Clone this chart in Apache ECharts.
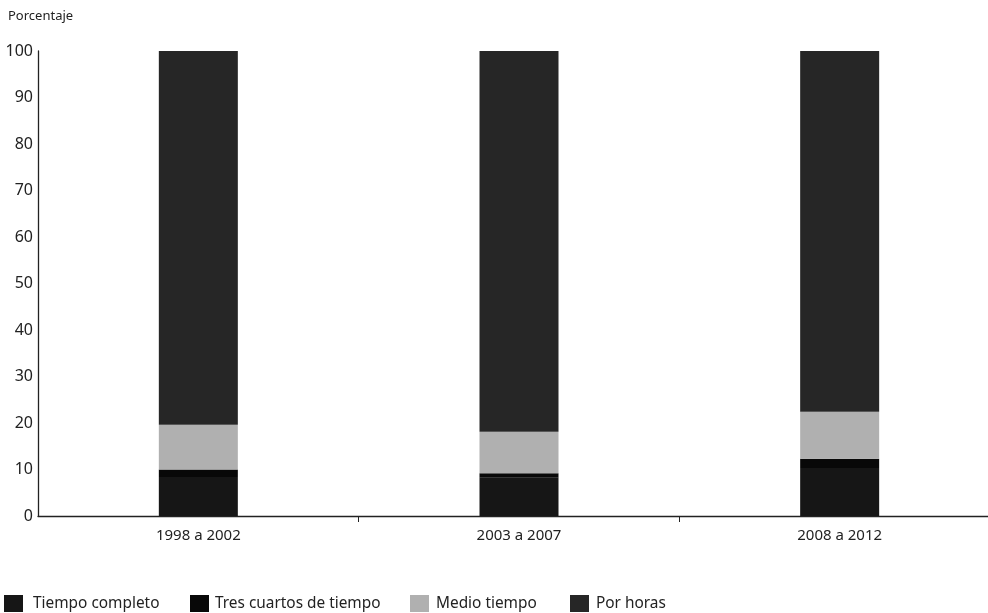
<!DOCTYPE html>
<html><head><meta charset="utf-8">
<script src="https://cdn.jsdelivr.net/npm/echarts@6/dist/echarts.min.js"></script>
<style>html,body{margin:0;padding:0;background:#fff}#c{width:988px;height:613px}</style>
</head><body><div id="c"></div>
<script>
var categories = ['1998 a 2002', '2003 a 2007', '2008 a 2012'];
var seriesNames = ['Tiempo completo', 'Tres cuartos de tiempo', 'Medio tiempo', 'Por horas'];
var tiempoCompleto = [8.4, 8.2, 10.3];
var tresCuartos = [1.6, 1.0, 2.0];
var medioTiempo = [9.6, 8.9, 10.1];
var porHoras = [80.4, 81.9, 77.6];
var yTicks = [0, 10, 20, 30, 40, 50, 60, 70, 80, 90, 100];

var font = 'Noto Sans';
var legendLeft = [4, 190, 410, 570];
var legendTextPad = [5, 1, 2, 2];
var chart = echarts.init(document.getElementById('c'), null, {renderer: 'canvas'});
function s(name, data, color) {
  return {name: name, type: 'bar', stack: 't', data: data, barWidth: 79,
    itemStyle: {color: color}, emphasis: {disabled: true}};
}
var legends = seriesNames.map(function (n, i) {
  return {left: legendLeft[i], top: 595, padding: 0, itemWidth: 19, itemHeight: 17,
    icon: 'rect', data: [n],
    textStyle: {fontFamily: font, fontSize: 15.4, color: '#222', padding: [0, 0, 0, legendTextPad[i]]}};
});
chart.setOption({
  animation: false,
  title: {text: 'Porcentaje', left: 3, top: 5,
    textStyle: {fontFamily: font, fontSize: 13, fontWeight: 'normal', color: '#222'}},
  grid: {left: 38, width: 962, top: 51, bottom: 97, containLabel: false, outerBoundsMode: 'none'},
  legend: legends,
  xAxis: {type: 'category', data: categories,
    axisLine: {lineStyle: {color: '#222', width: 1.3}},
    axisTick: {show: true, length: 6, lineStyle: {color: '#222'},
      interval: function (i) { return i !== 0; }},
    axisLabel: {fontFamily: font, fontSize: 15, color: '#222', margin: 12}},
  yAxis: {type: 'value', min: yTicks[0], max: yTicks[yTicks.length - 1], interval: 10,
    axisLine: {show: true, lineStyle: {color: '#222', width: 1.3}},
    axisTick: {show: false}, splitLine: {show: false},
    axisLabel: {fontFamily: font, fontSize: 16, color: '#222', margin: 5}},
  series: [
    s(seriesNames[0], tiempoCompleto, '#161616'),
    s(seriesNames[1], tresCuartos, '#080808'),
    s(seriesNames[2], medioTiempo, '#b0b0b0'),
    s(seriesNames[3], porHoras, '#262626')
  ]
});
</script></body></html>
